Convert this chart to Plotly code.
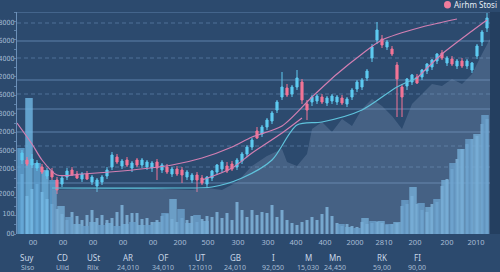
import plotly.graph_objects as go

# ---------------- data ----------------
candle_open = [74, 74, 69, 66, 67, 58, 63, 54, 50, 57, 64, 60, 55, 60, 52, 48, 52, 58, 67, 77,
               68, 74, 66, 74, 69, 67, 66, 72, 64, 67, 60, 65, 64, 57, 54, 59, 56, 50, 56, 62,
               65, 68, 70, 67, 73, 80, 87, 103, 100, 107, 113, 124, 137, 146, 140, 147, 152, 130, 132, 133,
               137, 131, 133, 132, 136, 130, 137, 145, 147, 156, 176, 194, 195, 187, 185, 169, 147, 148, 152, 157,
               157, 163, 167, 173, 181, 171, 175, 168, 173, 168, 164, 178, 192, 206]
candle_high = [84, 77, 80, 74, 70, 66, 66, 57, 58, 66, 67, 63, 62, 63, 59, 56, 59, 67, 82, 80,
               75, 77, 73, 76, 76, 74, 73, 75, 71, 70, 67, 68, 67, 64, 61, 62, 59, 58, 64, 70,
               74, 72, 73, 76, 82, 89, 96, 107, 109, 116, 123, 134, 162, 150, 149, 164, 155, 134, 139, 140,
               140, 138, 140, 139, 139, 137, 146, 154, 156, 165, 190, 212, 199, 194, 188, 172, 150, 156, 160, 160,
               165, 171, 175, 181, 184, 178, 178, 175, 176, 175, 172, 190, 204, 221]
candle_low = [70, 68, 66, 63, 60, 55, 54, 40, 47, 54, 58, 55, 52, 54, 49, 42, 49, 55, 64, 70,
              65, 67, 62, 67, 66, 64, 62, 54, 61, 60, 57, 58, 51, 54, 51, 42, 49, 47, 53, 59,
              62, 61, 63, 64, 70, 77, 84, 95, 97, 104, 110, 121, 134, 137, 137, 144, 130, 114, 128, 130,
              130, 128, 130, 129, 129, 127, 134, 142, 144, 153, 172, 190, 186, 184, 178, 117, 117, 144, 149, 150,
              154, 160, 164, 170, 174, 168, 168, 165, 166, 165, 161, 175, 188, 202]
candle_close = [81, 70, 75, 71, 62, 63, 57, 44, 56, 63, 59, 56, 60, 55, 57, 54, 57, 64, 79, 72,
                73, 69, 71, 69, 74, 72, 71, 66, 69, 62, 65, 60, 59, 62, 59, 54, 51, 57, 63, 69,
                72, 63, 65, 74, 80, 87, 94, 96, 107, 114, 121, 132, 147, 139, 147, 156, 134, 124, 137, 138,
                132, 136, 138, 137, 131, 135, 144, 152, 154, 163, 187, 204, 189, 192, 180, 155, 137, 155, 159, 151,
                164, 170, 174, 180, 176, 176, 170, 173, 168, 173, 171, 188, 202, 216]

thin_volume = [60, 38, 45, 50, 42, 35, 30, 25, 20, 14,
               22, 18, 14, 19, 24, 16, 19, 14, 16, 22,
               29, 19, 21, 21, 15, 16, 12, 14, 18, 20,
               15, 12, 16, 14, 18, 12, 15, 18, 17, 22,
               16, 21, 14, 32, 24, 17, 24, 19, 22, 21,
               29, 17, 24, 14, 11, 9, 12, 14, 17, 14,
               20, 27, 18, 11, 8, 10,
               8, 7, 12, 10, 11, 12, 11, 9, 10, 11, 28, 30, 38, 30,
               24, 22, 30, 32, 48, 55, 65, 75, 85, 90, 95, 98, 110, 115]

wide_volume = [86, 136, 71, 64, 54, 28, 17,
               10, 8, 12, 9, 11, 8, 10, 12, 9,
               9, 12, 21, 35, 25, 11, 19, 13,
               0, 0, 0, 0, 0, 0, 0, 0, 0, 0, 0, 0, 0, 0, 0, 0,
               10, 7, 6, 16, 13, 13, 10, 12, 34, 47, 31, 27, 35, 54, 71, 85, 95, 100, 119]

upper_idx = [-1, 2, 4, 7, 12, 20, 30, 36, 42, 46, 52, 58, 63, 68, 72, 80, 87]
upper_val = [111, 90, 74, 59, 60, 63, 69, 76, 87, 97, 108, 137, 160, 180, 194, 207, 215]
mid_idx = [36, 42, 46, 52, 56]
mid_val = [54, 66, 81, 101, 116]
lower_idx = [6, 30, 38, 44, 50, 55, 60, 68, 75, 79]
lower_val = [46, 46, 47, 56, 74, 109, 112, 124, 147, 156]
tail_idx = [79, 84, 90, 93]
tail_val = [156, 180, 203, 214]

shadow_idx = [6, 12, 20, 28, 34, 37, 40, 43, 46, 49, 52, 53, 55, 57, 58, 60, 62, 64, 66, 68,
              70, 72, 74, 76, 78, 80, 82, 84, 86, 88, 90, 92, 93.6]
shadow_val = [44, 45, 44, 45, 44, 46, 44, 52, 68, 78, 85, 72, 68, 80, 105, 112, 102, 115, 108, 125,
              135, 128, 118, 105, 130, 140, 150, 148, 155, 150, 160, 180, 195]

x_tick_vals = [2.2, 8.2, 14.2, 20.2, 26.2, 31.6, 37.2, 43.2, 49.2, 54.8, 60.6, 66.6, 72.4, 78.6, 85, 90.8]
x_tick_text = ["00", "00", "00", "00", "00", "200", "500", "300", "300", "400", "400",
               "2000", "2810", "200", "200", "2010"]
y_tick_vals = [211, 193, 175, 157, 139, 120, 102, 83, 65, 40, 20, 0]
y_tick_text = ["8000", "6000", "4000", "2000", "6000", "3000", "2000", "6000", "2000", "2000", "100", "00"]

categories = ["Suy", "CD", "USt", "AR", "OF", "UT", "GB", "I", "M", "Mn", "RK", "FI"]
category_values = ["Siso", "Ulld", "Rllx", "24,010", "34,010", "121010", "24,010",
                   "92,050", "15,030", "24,450", "59,00", "90,00"]
legend_label = "Airhm Stosi"

# ---------------- layout helpers ----------------
W, H = 500, 272
L, R, T, B = 17, 490, 12, 234
def px_x(px):
    return (px - L) / (R - L)
def px_y(py):
    return (B - py) / (B - T)

grid_solid = [222, 193, 154, 125, 102, 51]
grid_dash = [211, 176, 140, 88, 67]
cat_px = [27, 62, 93, 128, 163, 200, 235, 273, 308, 335, 382, 417]

BG = "#2c4a6e"
UP = "#5ecaf0"
DOWN = "#f27596"
PINK = "#d27fb2"
CYAN = "#5fc3dc"
FONT = "Noto Sans"
NARROW = "Liberation Sans Narrow, DejaVu Sans Condensed, Noto Sans"

fig = go.Figure()

fig.add_trace(go.Scatter(x=shadow_idx, y=shadow_val, mode="lines", fill="tozeroy",
                         line=dict(width=0), fillcolor="rgba(128,152,184,0.30)",
                         hoverinfo="skip", showlegend=False))

fig.add_trace(go.Bar(x=list(range(len(thin_volume))), y=thin_volume, width=0.6,
                     marker=dict(color="rgba(130,198,238,0.82)", line=dict(width=0)),
                     showlegend=False))

wide_x = [1.6 * j - 0.2 for j in range(len(wide_volume))]
wide_colors = ["rgba(98,165,214,0.80)" if j % 2 == 0 else "rgba(112,182,228,0.80)"
               for j in range(len(wide_volume))]
fig.add_trace(go.Bar(x=wide_x, y=wide_volume, width=1.6 * 0.94,
                     marker=dict(color=wide_colors, line=dict(width=0)),
                     showlegend=False))

for xs, ys, col in [(upper_idx, upper_val, PINK), (mid_idx, mid_val, PINK),
                    (lower_idx, lower_val, CYAN), (tail_idx, tail_val, PINK)]:
    fig.add_trace(go.Scatter(x=xs, y=ys, mode="lines",
                             line=dict(color=col, width=1.2, shape="spline", smoothing=0.8),
                             hoverinfo="skip", showlegend=False))

fig.add_trace(go.Candlestick(x=list(range(len(candle_open))), open=candle_open, high=candle_high,
                             low=candle_low, close=candle_close, whiskerwidth=0,
                             increasing=dict(line=dict(color=UP, width=1), fillcolor=UP),
                             decreasing=dict(line=dict(color=DOWN, width=1), fillcolor=DOWN),
                             showlegend=False))

shapes = []
for v in grid_solid:
    shapes.append(dict(type="line", xref="paper", yref="y", x0=0, x1=1, y0=v, y1=v,
                       line=dict(color="rgba(122,162,206,0.62)", width=1), layer="below"))
for v in grid_dash:
    shapes.append(dict(type="line", xref="paper", yref="y", x0=0, x1=1, y0=v, y1=v,
                       line=dict(color="rgba(122,162,206,0.45)", width=1, dash="4px,3px"),
                       layer="below"))
# darker right strip
shapes.append(dict(type="rect", xref="paper", yref="paper", x0=1, x1=px_x(W), y0=0, y1=1,
                   fillcolor="#243f60", line=dict(width=0), layer="below"))
# legend marker
shapes.append(dict(type="circle", xref="paper", yref="paper", x0=px_x(444), x1=px_x(451),
                   y0=px_y(8.5), y1=px_y(1), fillcolor="#f07c9c", line=dict(width=0)))

annotations = [dict(text=legend_label, xref="paper", yref="paper", x=px_x(453), y=px_y(4.5),
                    xanchor="left", yanchor="middle", showarrow=False, borderpad=0,
                    font=dict(family=FONT, size=8, color="#e6edf5"))]
for c, v, p in zip(categories, category_values, cat_px):
    annotations.append(dict(text=c, xref="paper", yref="paper", x=px_x(p), y=px_y(257.5),
                            xanchor="center", yanchor="middle", showarrow=False, borderpad=0,
                            font=dict(family=FONT, size=8, color="#c8d7e8")))
    annotations.append(dict(text=v, xref="paper", yref="paper", x=px_x(p), y=px_y(267.5),
                            xanchor="center", yanchor="middle", showarrow=False, borderpad=0,
                            font=dict(family=FONT, size=7, color="#a6bbd2")))

fig.update_layout(
    width=W, height=H,
    margin=dict(l=L, r=W - R, t=T, b=H - B, autoexpand=False),
    paper_bgcolor=BG, plot_bgcolor=BG,
    barmode="overlay", boxgap=0.4,
    hovermode=False,
    showlegend=False,
    font=dict(family=FONT, size=8, color="#a6bbd2"),
    xaxis=dict(range=[-1, 93.6], tickmode="array", tickvals=x_tick_vals, ticktext=x_tick_text,
               showgrid=False, zeroline=False, showline=False, ticks="", automargin=False,
               ticklabelstandoff=2,
               tickfont=dict(family=FONT, size=7.5, color="#a8bdd6"),
               rangeslider=dict(visible=False), fixedrange=True),
    yaxis=dict(range=[0, 222], tickmode="array", tickvals=y_tick_vals, ticktext=y_tick_text,
               showgrid=False, zeroline=False, showline=True, automargin=False,
               linecolor="rgba(130,168,210,0.75)", linewidth=1, ticks="",
               ticklabelstandoff=0,
               tickfont=dict(family=NARROW, size=7, color="#a8bdd6"),
               minor=dict(tickmode="linear", tick0=0, dtick=9.25, ticks="outside", ticklen=2,
                          tickcolor="rgba(130,168,210,0.6)", showgrid=False),
               fixedrange=True),
    shapes=shapes,
    annotations=annotations,
)

fig.write_html("out.html")
